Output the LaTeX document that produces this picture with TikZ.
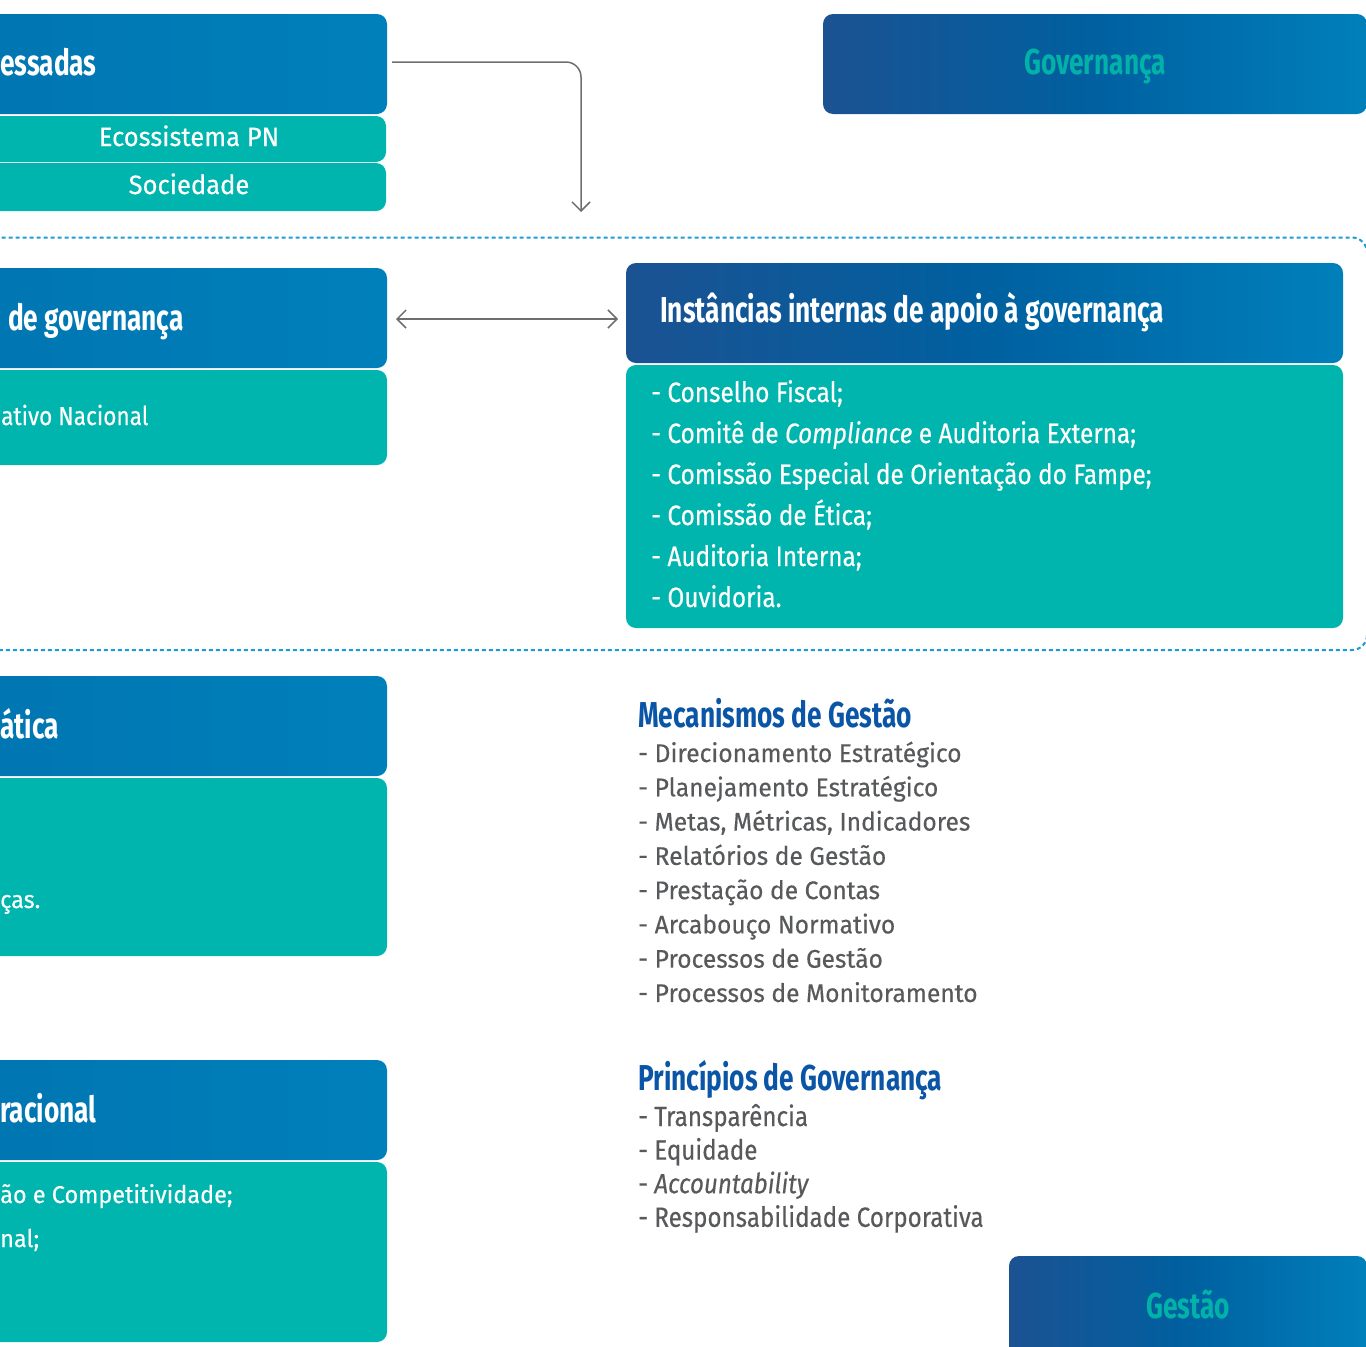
\documentclass[tikz,border=0pt]{standalone}
\usepackage{fontspec}
\setmainfont{Fira Sans}
\newfontfamily\titlef{Fira Sans}[FakeStretch=0.73]
\newfontfamily\condf{Fira Sans}[FakeStretch=0.87, FakeBold=0.4]
\newfontfamily\normf{Fira Sans}[FakeStretch=0.965, FakeBold=0.4]
\usetikzlibrary{arrows.meta,calc}
\definecolor{tealc}{RGB}{0,181,173}
\definecolor{lbdark}{RGB}{0,108,168}
\definecolor{lblight}{RGB}{0,128,187}
\definecolor{navy}{RGB}{27,82,146}
\definecolor{navymid}{RGB}{0,96,160}
\definecolor{titleblue}{RGB}{10,85,165}
\definecolor{greytxt}{RGB}{88,89,91}
\definecolor{arrowgrey}{RGB}{110,110,112}
\definecolor{dashblue}{RGB}{30,155,215}
\definecolor{tealtxt}{RGB}{0,178,168}
\tikzset{
  box/.style={rectangle, rounded corners=10pt, inner sep=0pt, outer sep=0pt, draw=none, anchor=north west},
  leftblue/.style={box, left color=lbdark, right color=lblight},
  navybox/.style={box, left color=navy, right color=lblight, middle color=navymid},
  tealbox/.style={box, fill=tealc},
  ttl/.style={inner sep=0pt, anchor=base west, text=white, font=\titlef\bfseries\fontsize{36}{40}\selectfont},
  sect/.style={inner sep=0pt, anchor=base west, text=titleblue, font=\titlef\bfseries\fontsize{36}{40}\selectfont},
  tagtxt/.style={inner sep=0pt, anchor=base, text=tealtxt, font=\titlef\bfseries\fontsize{36}{40}\selectfont},
  chip/.style={inner sep=0pt, anchor=base, text=white, font=\normf\fontsize{26.5}{30}\selectfont},
  itemw/.style={inner sep=0pt, anchor=base west, text=white, font=\condf\fontsize{28}{32}\selectfont},
  itemn/.style={inner sep=0pt, anchor=base west, text=white, font=\normf\fontsize{24.3}{28}\selectfont},
  mech/.style={inner sep=0pt, anchor=base west, text=greytxt, font=\normf\fontsize{25.5}{30}\selectfont},
  princ/.style={inner sep=0pt, anchor=base west, text=greytxt, font=\condf\fontsize{27.8}{30}\selectfont},
  conn/.style={draw=arrowgrey, line width=1.5pt, >={Straight Barb[length=9pt,width=18pt]}},
  frame/.style={draw=dashblue, line width=2pt, dash pattern=on 4pt off 3pt, rounded corners=15pt}
}
\begin{document}
\begin{tikzpicture}[x=1pt,y=-1pt]
\useasboundingbox (0,0) rectangle (1366,1347);
\clip (0,0) rectangle (1366,1347);

% dashed frame
\draw[frame] (-30,237.5) rectangle (1367,650);

% top-left: Partes interessadas
\node[leftblue, minimum width=787pt, minimum height=100pt] (pi) at (-400,14) {};
\node[ttl] (pit) at (0,75) {essadas};
\node[tealbox, minimum width=786pt, minimum height=46pt] (eco) at (-400,116) {};
\node[chip] (ecot) at (189,146) {Ecossistema PN};
\node[tealbox, minimum width=786pt, minimum height=48pt] (soc) at (-400,163) {};
\node[chip] (soct) at (189,194) {Sociedade};

% Governança tag
\node[navybox, minimum width=544pt, minimum height=100pt] (gov) at (823,14) {};
\node[tagtxt] (govt) at (1095,74) {Governança};

% left: instâncias de governança
\node[leftblue, minimum width=787pt, minimum height=100pt] (lg) at (-400,268) {};
\node[ttl] (lgt) at (8,330) {de governança};
\node[tealbox, minimum width=787pt, minimum height=95pt] (lgb) at (-400,370) {};
\node[itemw, font=\condf\fontsize{26}{30}\selectfont] (lgbt) at (1,425) {ativo Nacional};

% right: instâncias internas
\node[navybox, minimum width=717pt, minimum height=100pt] (ii) at (626,263) {};
\node[ttl] (iit) at (660,322) {Instâncias internas de apoio à governança};
\node[tealbox, minimum width=717pt, minimum height=263pt] (iib) at (626,365) {};
\foreach \t [count=\i] in {Conselho Fiscal;,
  Comitê de \textit{Compliance} e Auditoria Externa;,
  Comissão Especial de Orientação do Fampe;,
  Comissão de Ética;,
  Auditoria Interna;,
  Ouvidoria.}
  \node[itemw] (iil\i) at (651,{402+41*(\i-1)}) {- \t};

% left: estratégica
\node[leftblue, minimum width=787pt, minimum height=100pt] (le) at (-400,676) {};
\node[ttl] (let) at (0,738) {ática};
\node[tealbox, minimum width=787pt, minimum height=178pt] (leb) at (-400,778) {};
\node[itemn] (lebt) at (0,908) {ças.};

% Mecanismos de Gestão
\node[sect] (mect) at (638,727) {Mecanismos de Gestão};
\foreach \t [count=\i] in {Direcionamento Estratégico,
  Planejamento Estratégico,
  {Metas, Métricas, Indicadores},
  Relatórios de Gestão,
  Prestação de Contas,
  Arcabouço Normativo,
  Processos de Gestão,
  Processos de Monitoramento}
  \node[mech] (mecl\i) at (638,{762+34.28*(\i-1)}) {- \t};

% left: operacional
\node[leftblue, minimum width=787pt, minimum height=100pt] (lo) at (-400,1060) {};
\node[ttl] (lot) at (0,1122) {racional};
\node[tealbox, minimum width=787pt, minimum height=180pt] (lob) at (-400,1162) {};
\node[itemn] (lobt1) at (0,1203) {ão e Competitividade;};
\node[itemn] (lobt2) at (0,1247) {nal;};

% Princípios de Governança
\node[sect] (prt) at (638,1090) {Princípios de Governança};
\foreach \t [count=\i] in {Transparência,
  Equidade,
  \textit{Accountability},
  Responsabilidade Corporativa}
  \node[princ] (prl\i) at (638,{1126+33.6*(\i-1)}) {- \t};

% Gestão tag
\node[navybox, minimum width=358pt, minimum height=110pt] (ges) at (1009,1256) {};
\node[tagtxt] (gest) at (1188,1318) {Gestão};

% connectors
\coordinate (arrEnd) at (581,212);
\draw[conn, ->, rounded corners=15pt] ($(pi.east)+(5,-2)$) -| (arrEnd);
\draw[conn, <->] ($(lg.east)+(9,1)$) -- ($(lg.east -| ii.west)+(-8,1)$);
\end{tikzpicture}
\end{document}
